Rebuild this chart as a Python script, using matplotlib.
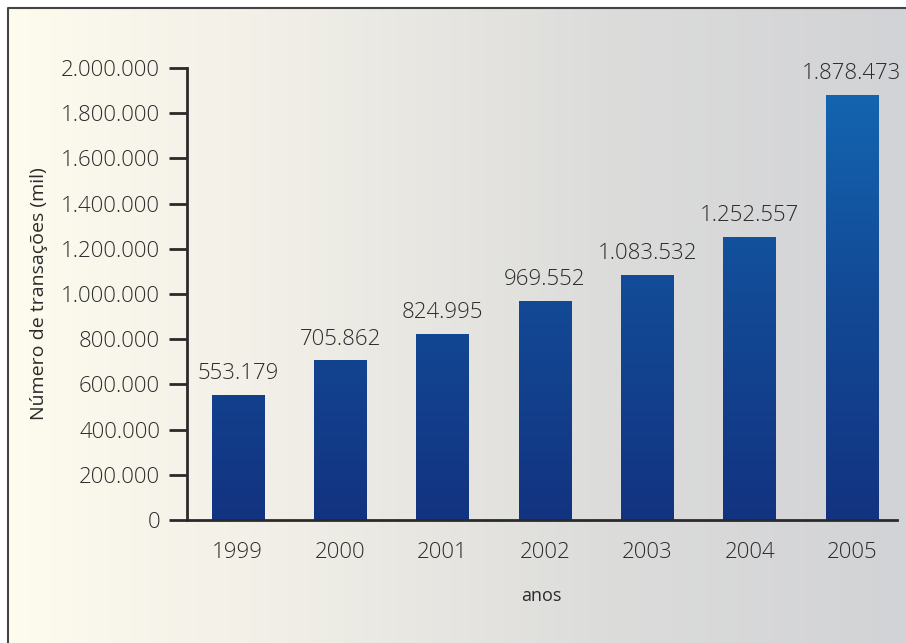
import numpy as np
import matplotlib.pyplot as plt
from matplotlib.colors import LinearSegmentedColormap

anos = ["1999", "2000", "2001", "2002", "2003", "2004", "2005"]
transacoes = [553179, 705862, 824995, 969552, 1083532, 1252557, 1878473]
yticks = [0, 200000, 400000, 600000, 800000, 1000000, 1200000,
          1400000, 1600000, 1800000, 2000000]


def fmt_pt(v):
    return f"{v:,}".replace(",", ".")


plt.rcParams['font.family'] = ['Open Sans', 'DejaVu Sans']
plt.rcParams['font.weight'] = 'light'
txt = "#2b2b2b"

W, H = 906, 643
fig = plt.figure(figsize=(W / 100, H / 100), dpi=100)

# painel de fundo com gradiente horizontal creme -> cinza
bg = fig.add_axes([0, 0, 1, 1], zorder=-10)
bg.set_xlim(0, W)
bg.set_ylim(H, 0)
bg.axis("off")
bg_cmap = LinearSegmentedColormap.from_list(
    "fundo", ["#fefcee", "#efede6", "#dcdcdb", "#d2d3d6"])
grad = np.linspace(0, 1, 256).reshape(1, -1)
bg.imshow(grad, cmap=bg_cmap, extent=(8, W, H, 8), aspect="auto")
bg.plot([8, 8, W], [H, 8, 8], color="#444444", lw=1.5, solid_capstyle="butt")

ax = fig.add_axes([186.5 / W, 1 - 520 / H, (897 - 186.5) / W, (520 - 68) / H])
ax.patch.set_alpha(0)

x = np.arange(len(anos))
bars = ax.bar(x, transacoes, width=0.51, color="none", zorder=2)

# gradiente vertical comum a todas as barras (mais claro no topo)
bar_cmap = LinearSegmentedColormap.from_list("barras", ["#133380", "#124a96", "#1468b4"])
vgrad = np.linspace(0, 1, 256).reshape(-1, 1)
ymax = 2000000
for b in bars:
    im = ax.imshow(vgrad, cmap=bar_cmap, origin="lower",
                   extent=(-0.5, 6.44, 0, ymax), aspect="auto", zorder=2)
    im.set_clip_path(b)

for xi, v in zip(x, transacoes):
    ax.annotate(fmt_pt(v), (xi, v), xytext=(0, 11.5), textcoords="offset points",
                ha="center", va="baseline", fontsize=16, color=txt, clip_on=False)

ax.set_xlim(-0.5, 6.44)
ax.set_ylim(0, ymax)
ax.set_yticks(yticks)
ax.set_yticklabels([fmt_pt(t) for t in yticks])
ax.set_xticks(x)
ax.set_xticklabels(anos)

for s in ["top", "right"]:
    ax.spines[s].set_visible(False)
for s in ["left", "bottom"]:
    ax.spines[s].set_linewidth(2)
    ax.spines[s].set_color("#2a2a2a")

ax.tick_params(axis="y", length=13, width=2, color="#2a2a2a", pad=6,
               labelsize=16, labelcolor=txt)
ax.tick_params(axis="x", length=0, pad=16, labelsize=16, labelcolor=txt)

ax.set_xlabel("anos", fontsize=13, color=txt, labelpad=17)
ax.set_ylabel("Número de transações (mil)", fontsize=14, color=txt, labelpad=9)

fig.savefig("out.png", dpi=100)
